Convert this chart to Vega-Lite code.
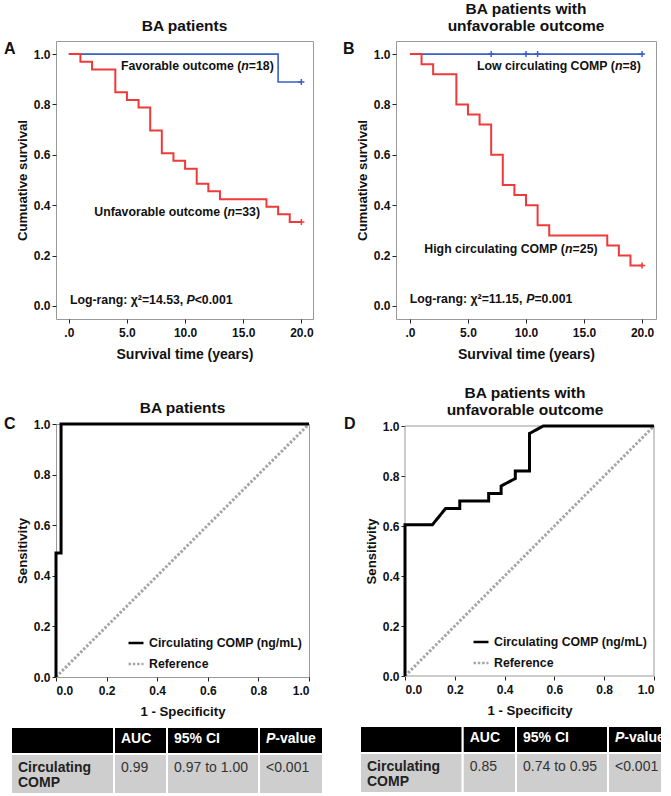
{
  "$schema": "https://vega.github.io/schema/vega-lite/v6.json",
  "padding": {"left": 3, "top": 1, "right": 0, "bottom": 0},
  "background": "white",
  "config": {
    "font": "Liberation Sans",
    "view": {"stroke": "#999999", "strokeWidth": 1},
    "title": {"font": "Liberation Sans", "fontSize": 15.5, "fontWeight": "bold", "color": "#111111", "offset": 7, "lineHeight": 16.5, "frame": "group", "anchor": "middle"},
    "axis": {"labelFont": "Liberation Sans", "labelFontSize": 12, "labelFontWeight": "bold", "labelColor": "#111111", "titleFont": "Liberation Sans", "titleFontWeight": "bold", "titleFontSize": 13.2, "titleColor": "#111111", "tickColor": "#222222", "tickSize": 4, "domain": false, "grid": false},
    "axisX": {"labelPadding": 4, "titlePadding": 9},
    "axisY": {"labelPadding": 2, "titlePadding": 4},
    "legend": {"labelFont": "Liberation Sans", "labelFontSize": 12.3, "labelFontWeight": "bold", "labelColor": "#111111", "labelLimit": 300, "symbolSize": 225, "symbolStrokeWidth": 2.5, "symbolType": "stroke", "labelOffset": 4, "rowPadding": 5, "padding": 0, "offset": 6}
  },
  "resolve": {"scale": {"color": "independent", "strokeDash": "independent"}},
  "spacing": 18,
  "hconcat": [
    {
      "spacing": 8,
      "resolve": {"scale": {"color": "independent", "strokeDash": "independent"}},
      "vconcat": [
        {
          "spacing": 38,
          "resolve": {"scale": {"color": "independent", "strokeDash": "independent"}},
          "vconcat": [
            {
              "width": 257,
              "height": 278,
              "title": {"text": "BA patients"},
              "layer": [
                {
                  "data": {"values": [{"t": 0, "s": 1}, {"t": 18, "s": 0.889}, {"t": 20, "s": 0.889}]},
                  "mark": {"type": "line", "interpolate": "step-after", "color": "#3b5ec8", "strokeWidth": 1.6},
                  "encoding": {
                    "x": {"field": "t", "type": "quantitative", "scale": {"domain": [-1.1, 21], "nice": false, "zero": false}, "axis": {"values": [0, 5, 10, 15, 20], "title": "Survival time (years)", "titleFontSize": 14, "labelExpr": "datum.value === 0 ? '.0' : format(datum.value, '.1f')"}},
                    "y": {"field": "s", "type": "quantitative", "scale": {"domain": [-0.052, 1.052], "nice": false, "zero": false}, "axis": {"values": [0, 0.2, 0.4, 0.6, 0.8, 1], "format": ".1f", "title": "Cumuative survival"}}
                  }
                },
                {
                  "data": {"values": [{"t": 0, "s": 1}, {"t": 1, "s": 0.970}, {"t": 2, "s": 0.939}, {"t": 4, "s": 0.848}, {"t": 5, "s": 0.818}, {"t": 6, "s": 0.788}, {"t": 7, "s": 0.697}, {"t": 8, "s": 0.606}, {"t": 9, "s": 0.576}, {"t": 10, "s": 0.545}, {"t": 11, "s": 0.485}, {"t": 12, "s": 0.455}, {"t": 13, "s": 0.424}, {"t": 17, "s": 0.394}, {"t": 18, "s": 0.364}, {"t": 19, "s": 0.333}, {"t": 20, "s": 0.333}]},
                  "mark": {"type": "line", "interpolate": "step-after", "color": "#ee3a3a", "strokeWidth": 2},
                  "encoding": {"x": {"field": "t", "type": "quantitative"}, "y": {"field": "s", "type": "quantitative"}}
                },
                {
                  "data": {"values": [{"t": 20, "s": 0.889}]},
                  "mark": {"type": "point", "shape": "M-1,0L1,0M0,-1L0,1", "filled": false, "size": 36, "strokeWidth": 1.5, "color": "#3b5ec8", "opacity": 1},
                  "encoding": {"x": {"field": "t", "type": "quantitative"}, "y": {"field": "s", "type": "quantitative"}}
                },
                {
                  "data": {"values": [{"t": 20, "s": 0.333}]},
                  "mark": {"type": "point", "shape": "M-1,0L1,0M0,-1L0,1", "filled": false, "size": 36, "strokeWidth": 1.5, "color": "#ee3a3a", "opacity": 1},
                  "encoding": {"x": {"field": "t", "type": "quantitative"}, "y": {"field": "s", "type": "quantitative"}}
                },
                {
                  "data": {"values": [{"label": "Favorable outcome ("}]},
                  "mark": {"type": "text", "align": "left", "baseline": "alphabetic", "fontSize": 12.3, "fontWeight": "bold", "color": "#111111"},
                  "encoding": {"x": {"datum": 4.49, "type": "quantitative"}, "y": {"datum": 0.936, "type": "quantitative"}, "text": {"field": "label"}}
                },
                {
                  "data": {"values": [{"label": "n"}]},
                  "mark": {"type": "text", "align": "left", "baseline": "alphabetic", "fontSize": 12.3, "fontWeight": "bold", "fontStyle": "italic", "color": "#111111", "dx": 120.3},
                  "encoding": {"x": {"datum": 4.49, "type": "quantitative"}, "y": {"datum": 0.936, "type": "quantitative"}, "text": {"field": "label"}}
                },
                {
                  "data": {"values": [{"label": "=18)"}]},
                  "mark": {"type": "text", "align": "left", "baseline": "alphabetic", "fontSize": 12.3, "fontWeight": "bold", "color": "#111111", "dx": 127.8},
                  "encoding": {"x": {"datum": 4.49, "type": "quantitative"}, "y": {"datum": 0.936, "type": "quantitative"}, "text": {"field": "label"}}
                },
                {
                  "data": {"values": [{"label": "Unfavorable outcome ("}]},
                  "mark": {"type": "text", "align": "left", "baseline": "alphabetic", "fontSize": 12.3, "fontWeight": "bold", "color": "#111111"},
                  "encoding": {"x": {"datum": 2.19, "type": "quantitative"}, "y": {"datum": 0.357, "type": "quantitative"}, "text": {"field": "label"}}
                },
                {
                  "data": {"values": [{"label": "n"}]},
                  "mark": {"type": "text", "align": "left", "baseline": "alphabetic", "fontSize": 12.3, "fontWeight": "bold", "fontStyle": "italic", "color": "#111111", "dx": 133.3},
                  "encoding": {"x": {"datum": 2.19, "type": "quantitative"}, "y": {"datum": 0.357, "type": "quantitative"}, "text": {"field": "label"}}
                },
                {
                  "data": {"values": [{"label": "=33)"}]},
                  "mark": {"type": "text", "align": "left", "baseline": "alphabetic", "fontSize": 12.3, "fontWeight": "bold", "color": "#111111", "dx": 140.8},
                  "encoding": {"x": {"datum": 2.19, "type": "quantitative"}, "y": {"datum": 0.357, "type": "quantitative"}, "text": {"field": "label"}}
                },
                {
                  "data": {"values": [{"label": "Log-rang: χ²=14.53,"}]},
                  "mark": {"type": "text", "align": "left", "baseline": "alphabetic", "fontSize": 12.3, "fontWeight": "bold", "color": "#111111"},
                  "encoding": {"x": {"datum": 0.1, "type": "quantitative"}, "y": {"datum": 0.008, "type": "quantitative"}, "text": {"field": "label"}}
                },
                {
                  "data": {"values": [{"label": "P"}]},
                  "mark": {"type": "text", "align": "left", "baseline": "alphabetic", "fontSize": 12.3, "fontWeight": "bold", "fontStyle": "italic", "color": "#111111", "dx": 116.5},
                  "encoding": {"x": {"datum": 0.1, "type": "quantitative"}, "y": {"datum": 0.008, "type": "quantitative"}, "text": {"field": "label"}}
                },
                {
                  "data": {"values": [{"label": "<0.001"}]},
                  "mark": {"type": "text", "align": "left", "baseline": "alphabetic", "fontSize": 12.3, "fontWeight": "bold", "color": "#111111", "dx": 124.7},
                  "encoding": {"x": {"datum": 0.1, "type": "quantitative"}, "y": {"datum": 0.008, "type": "quantitative"}, "text": {"field": "label"}}
                },
                {
                  "data": {"values": [{"label": "A"}]},
                  "mark": {"type": "text", "align": "left", "baseline": "alphabetic", "fontSize": 16, "fontWeight": "bold", "color": "#111111"},
                  "encoding": {"x": {"datum": -5.57, "type": "quantitative"}, "y": {"datum": 1.0, "type": "quantitative"}, "text": {"field": "label"}}
                }
              ]
            },
            {
              "width": 253,
              "height": 253,
              "title": {"text": "BA patients", "offset": 0},
              "layer": [
                {
                  "data": {"values": [
                    {"i": 0, "fpr": 0, "sens": 0, "series": "Reference"},
                    {"i": 1, "fpr": 1, "sens": 1, "series": "Reference"},
                    {"i": 0, "fpr": 0, "sens": 0, "series": "Circulating COMP (ng/mL)"},
                    {"i": 1, "fpr": 0, "sens": 0.49, "series": "Circulating COMP (ng/mL)"},
                    {"i": 2, "fpr": 0.02, "sens": 0.49, "series": "Circulating COMP (ng/mL)"},
                    {"i": 3, "fpr": 0.02, "sens": 1, "series": "Circulating COMP (ng/mL)"},
                    {"i": 4, "fpr": 1, "sens": 1, "series": "Circulating COMP (ng/mL)"}
                  ]},
                  "mark": {"type": "line", "strokeWidth": 3},
                  "encoding": {
                    "x": {"field": "fpr", "type": "quantitative", "scale": {"domain": [0, 1], "nice": false}, "axis": {"values": [0, 0.2, 0.4, 0.6, 0.8, 1], "format": ".1f", "title": "1 - Specificity"}},
                    "y": {"field": "sens", "type": "quantitative", "scale": {"domain": [0, 1], "nice": false}, "axis": {"values": [0, 0.2, 0.4, 0.6, 0.8, 1], "format": ".1f", "title": "Sensitivity"}},
                    "color": {"field": "series", "type": "nominal", "scale": {"domain": ["Circulating COMP (ng/mL)", "Reference"], "range": ["#000000", "#a6a6a6"]}, "legend": {"title": null, "orient": "bottom-right"}},
                    "strokeDash": {"field": "series", "type": "nominal", "scale": {"domain": ["Circulating COMP (ng/mL)", "Reference"], "range": [[1, 0], [2.5, 1.8]]}, "legend": {"title": null, "orient": "bottom-right"}},
                    "order": {"field": "i", "type": "quantitative"}
                  }
                },
                {
                  "data": {"values": [{"label": "C"}]},
                  "mark": {"type": "text", "align": "left", "baseline": "alphabetic", "fontSize": 16, "fontWeight": "bold", "color": "#111111"},
                  "encoding": {"x": {"datum": -0.2055, "type": "quantitative"}, "y": {"datum": 0.979, "type": "quantitative"}, "text": {"field": "label"}}
                }
              ]
            }
          ]
        },
        {
          "width": 267,
          "height": 67,
          "view": {"stroke": null},
          "layer": [
            {
              "data": {"values": [
                {"r": 0, "r2": 1, "c": 0, "c2": 1, "kind": "header"},
                {"r": 0, "r2": 1, "c": 1, "c2": 2, "kind": "header"},
                {"r": 0, "r2": 1, "c": 2, "c2": 3, "kind": "header"},
                {"r": 0, "r2": 1, "c": 3, "c2": 4, "kind": "header"},
                {"r": 1, "r2": 2, "c": 0, "c2": 1, "kind": "body"},
                {"r": 1, "r2": 2, "c": 1, "c2": 2, "kind": "body"},
                {"r": 1, "r2": 2, "c": 2, "c2": 3, "kind": "body"},
                {"r": 1, "r2": 2, "c": 3, "c2": 4, "kind": "body"}
              ]},
              "mark": {"type": "rect", "stroke": "white", "strokeWidth": 2},
              "encoding": {
                "x": {"field": "c", "type": "quantitative", "scale": {"domain": [0, 1, 2, 3, 4], "range": [-45, 58, 111, 203, 267], "nice": false, "zero": false}, "axis": null},
                "x2": {"field": "c2"},
                "y": {"field": "r", "type": "quantitative", "scale": {"domain": [0, 1, 2], "range": [0, 27, 67], "nice": false, "zero": false}, "axis": null},
                "y2": {"field": "r2"},
                "color": {"field": "kind", "type": "nominal", "scale": {"domain": ["header", "body"], "range": ["#000000", "#cecece"]}, "legend": null}
              }
            },
            {
              "data": {"values": [{"r": 0, "c": 1, "t": "AUC"}, {"r": 0, "c": 2, "t": "95% CI"}]},
              "mark": {"type": "text", "align": "left", "baseline": "alphabetic", "fontSize": 14, "fontWeight": "bold", "color": "#ffffff", "dx": 7, "dy": 16.3},
              "encoding": {"x": {"field": "c", "type": "quantitative"}, "y": {"field": "r", "type": "quantitative"}, "text": {"field": "t"}}
            },
            {
              "data": {"values": [{"r": 0, "c": 3, "t": "P"}]},
              "mark": {"type": "text", "align": "left", "baseline": "alphabetic", "fontSize": 14, "fontWeight": "bold", "fontStyle": "italic", "color": "#ffffff", "dx": 7, "dy": 16.3},
              "encoding": {"x": {"field": "c", "type": "quantitative"}, "y": {"field": "r", "type": "quantitative"}, "text": {"field": "t"}}
            },
            {
              "data": {"values": [{"r": 0, "c": 3, "t": "-value"}]},
              "mark": {"type": "text", "align": "left", "baseline": "alphabetic", "fontSize": 14, "fontWeight": "bold", "color": "#ffffff", "dx": 16.3, "dy": 16.3},
              "encoding": {"x": {"field": "c", "type": "quantitative"}, "y": {"field": "r", "type": "quantitative"}, "text": {"field": "t"}}
            },
            {
              "data": {"values": [{"r": 1, "c": 0, "t": "Circulating\nCOMP"}]},
              "mark": {"type": "text", "align": "left", "baseline": "alphabetic", "fontSize": 14, "fontWeight": "bold", "color": "#222222", "dx": 7, "dy": 17.7, "lineBreak": "\n", "lineHeight": 15.5},
              "encoding": {"x": {"field": "c", "type": "quantitative"}, "y": {"field": "r", "type": "quantitative"}, "text": {"field": "t"}}
            },
            {
              "data": {"values": [{"r": 1, "c": 1, "t": "0.99"}, {"r": 1, "c": 2, "t": "0.97 to 1.00"}, {"r": 1, "c": 3, "t": "<0.001"}]},
              "mark": {"type": "text", "align": "left", "baseline": "alphabetic", "fontSize": 14, "fontWeight": "normal", "color": "#333333", "dx": 7, "dy": 17.7},
              "encoding": {"x": {"field": "c", "type": "quantitative"}, "y": {"field": "r", "type": "quantitative"}, "text": {"field": "t"}}
            }
          ]
        }
      ]
    },
    {
      "spacing": 8,
      "resolve": {"scale": {"color": "independent", "strokeDash": "independent"}},
      "vconcat": [
        {
          "spacing": 24,
          "resolve": {"scale": {"color": "independent", "strokeDash": "independent"}},
          "vconcat": [
            {
              "width": 260,
              "height": 278,
              "title": {"text": ["BA patients with", "unfavorable outcome"]},
              "layer": [
                {
                  "data": {"values": [{"t": 0, "s": 1}, {"t": 20, "s": 1}]},
                  "mark": {"type": "line", "interpolate": "step-after", "color": "#3b5ec8", "strokeWidth": 1.6},
                  "encoding": {
                    "x": {"field": "t", "type": "quantitative", "scale": {"domain": [-1.2, 21.2], "nice": false, "zero": false}, "axis": {"values": [0, 5, 10, 15, 20], "title": "Survival time (years)", "titleFontSize": 14, "labelExpr": "datum.value === 0 ? '.0' : format(datum.value, '.1f')"}},
                    "y": {"field": "s", "type": "quantitative", "scale": {"domain": [-0.052, 1.052], "nice": false, "zero": false}, "axis": {"values": [0, 0.2, 0.4, 0.6, 0.8, 1], "format": ".1f", "title": "Cumuative survival"}}
                  }
                },
                {
                  "data": {"values": [{"t": 0, "s": 1}, {"t": 1, "s": 0.96}, {"t": 2, "s": 0.92}, {"t": 4, "s": 0.80}, {"t": 5, "s": 0.76}, {"t": 6, "s": 0.72}, {"t": 7, "s": 0.60}, {"t": 8, "s": 0.48}, {"t": 9, "s": 0.44}, {"t": 10, "s": 0.40}, {"t": 11, "s": 0.32}, {"t": 12, "s": 0.28}, {"t": 17, "s": 0.24}, {"t": 18, "s": 0.20}, {"t": 19, "s": 0.16}, {"t": 20, "s": 0.16}]},
                  "mark": {"type": "line", "interpolate": "step-after", "color": "#ee3a3a", "strokeWidth": 2},
                  "encoding": {"x": {"field": "t", "type": "quantitative"}, "y": {"field": "s", "type": "quantitative"}}
                },
                {
                  "data": {"values": [{"t": 7, "s": 1}, {"t": 10, "s": 1}, {"t": 11, "s": 1}, {"t": 20, "s": 1}]},
                  "mark": {"type": "point", "shape": "M-1,0L1,0M0,-1L0,1", "filled": false, "size": 36, "strokeWidth": 1.5, "color": "#3b5ec8", "opacity": 1},
                  "encoding": {"x": {"field": "t", "type": "quantitative"}, "y": {"field": "s", "type": "quantitative"}}
                },
                {
                  "data": {"values": [{"t": 20, "s": 0.16}]},
                  "mark": {"type": "point", "shape": "M-1,0L1,0M0,-1L0,1", "filled": false, "size": 36, "strokeWidth": 1.5, "color": "#ee3a3a", "opacity": 1},
                  "encoding": {"x": {"field": "t", "type": "quantitative"}, "y": {"field": "s", "type": "quantitative"}}
                },
                {
                  "data": {"values": [{"label": "Low circulating COMP ("}]},
                  "mark": {"type": "text", "align": "left", "baseline": "alphabetic", "fontSize": 12.3, "fontWeight": "bold", "color": "#111111"},
                  "encoding": {"x": {"datum": 5.78, "type": "quantitative"}, "y": {"datum": 0.937, "type": "quantitative"}, "text": {"field": "label"}}
                },
                {
                  "data": {"values": [{"label": "n"}]},
                  "mark": {"type": "text", "align": "left", "baseline": "alphabetic", "fontSize": 12.3, "fontWeight": "bold", "fontStyle": "italic", "color": "#111111", "dx": 138.1},
                  "encoding": {"x": {"datum": 5.78, "type": "quantitative"}, "y": {"datum": 0.937, "type": "quantitative"}, "text": {"field": "label"}}
                },
                {
                  "data": {"values": [{"label": "=8)"}]},
                  "mark": {"type": "text", "align": "left", "baseline": "alphabetic", "fontSize": 12.3, "fontWeight": "bold", "color": "#111111", "dx": 145.6},
                  "encoding": {"x": {"datum": 5.78, "type": "quantitative"}, "y": {"datum": 0.937, "type": "quantitative"}, "text": {"field": "label"}}
                },
                {
                  "data": {"values": [{"label": "High circulating COMP ("}]},
                  "mark": {"type": "text", "align": "left", "baseline": "alphabetic", "fontSize": 12.3, "fontWeight": "bold", "color": "#111111"},
                  "encoding": {"x": {"datum": 1.24, "type": "quantitative"}, "y": {"datum": 0.211, "type": "quantitative"}, "text": {"field": "label"}}
                },
                {
                  "data": {"values": [{"label": "n"}]},
                  "mark": {"type": "text", "align": "left", "baseline": "alphabetic", "fontSize": 12.3, "fontWeight": "bold", "fontStyle": "italic", "color": "#111111", "dx": 140.8},
                  "encoding": {"x": {"datum": 1.24, "type": "quantitative"}, "y": {"datum": 0.211, "type": "quantitative"}, "text": {"field": "label"}}
                },
                {
                  "data": {"values": [{"label": "=25)"}]},
                  "mark": {"type": "text", "align": "left", "baseline": "alphabetic", "fontSize": 12.3, "fontWeight": "bold", "color": "#111111", "dx": 148.3},
                  "encoding": {"x": {"datum": 1.24, "type": "quantitative"}, "y": {"datum": 0.211, "type": "quantitative"}, "text": {"field": "label"}}
                },
                {
                  "data": {"values": [{"label": "Log-rang: χ²=11.15,"}]},
                  "mark": {"type": "text", "align": "left", "baseline": "alphabetic", "fontSize": 12.3, "fontWeight": "bold", "color": "#111111"},
                  "encoding": {"x": {"datum": -0.02, "type": "quantitative"}, "y": {"datum": 0.012, "type": "quantitative"}, "text": {"field": "label"}}
                },
                {
                  "data": {"values": [{"label": "P"}]},
                  "mark": {"type": "text", "align": "left", "baseline": "alphabetic", "fontSize": 12.3, "fontWeight": "bold", "fontStyle": "italic", "color": "#111111", "dx": 116.5},
                  "encoding": {"x": {"datum": -0.02, "type": "quantitative"}, "y": {"datum": 0.012, "type": "quantitative"}, "text": {"field": "label"}}
                },
                {
                  "data": {"values": [{"label": "=0.001"}]},
                  "mark": {"type": "text", "align": "left", "baseline": "alphabetic", "fontSize": 12.3, "fontWeight": "bold", "color": "#111111", "dx": 124.7},
                  "encoding": {"x": {"datum": -0.02, "type": "quantitative"}, "y": {"datum": 0.012, "type": "quantitative"}, "text": {"field": "label"}}
                },
                {
                  "data": {"values": [{"label": "B"}]},
                  "mark": {"type": "text", "align": "left", "baseline": "alphabetic", "fontSize": 16, "fontWeight": "bold", "color": "#111111"},
                  "encoding": {"x": {"datum": -5.77, "type": "quantitative"}, "y": {"datum": 1.0, "type": "quantitative"}, "text": {"field": "label"}}
                }
              ]
            },
            {
              "width": 258,
              "height": 250,
              "view": {"stroke": null},
              "title": {"text": ["BA patients with", "unfavorable outcome"], "offset": -2},
              "layer": [
                {
                  "data": {"values": [{"edge": "left"}]},
                  "mark": {"type": "rule", "color": "#999999", "strokeWidth": 1},
                  "encoding": {"x": {"datum": 0, "type": "quantitative", "scale": {"domain": [0, 1], "range": [9, 258], "nice": false}, "axis": {"values": [0, 0.2, 0.4, 0.6, 0.8, 1], "format": ".1f", "title": "1 - Specificity"}}}
                },
                {
                  "data": {"values": [{"edge": "right"}]},
                  "mark": {"type": "rule", "color": "#999999", "strokeWidth": 1},
                  "encoding": {"x": {"datum": 1, "type": "quantitative"}}
                },
                {
                  "data": {"values": [{"edge": "top"}]},
                  "mark": {"type": "rule", "color": "#999999", "strokeWidth": 1},
                  "encoding": {"x": {"datum": 0, "type": "quantitative"}, "x2": {"datum": 1}, "y": {"datum": 1, "type": "quantitative", "scale": {"domain": [0, 1], "nice": false}, "axis": {"values": [0, 0.2, 0.4, 0.6, 0.8, 1], "format": ".1f", "title": "Sensitivity", "offset": -9}}}
                },
                {
                  "data": {"values": [{"edge": "bottom"}]},
                  "mark": {"type": "rule", "color": "#999999", "strokeWidth": 1},
                  "encoding": {"x": {"datum": 0, "type": "quantitative"}, "x2": {"datum": 1}, "y": {"datum": 0, "type": "quantitative"}}
                },
                {
                  "data": {"values": [
                    {"i": 0, "fpr": 0, "sens": 0, "series": "Reference"},
                    {"i": 1, "fpr": 1, "sens": 1, "series": "Reference"},
                    {"i": 0, "fpr": 0, "sens": 0, "series": "Circulating COMP (ng/mL)"},
                    {"i": 1, "fpr": 0, "sens": 0.605, "series": "Circulating COMP (ng/mL)"},
                    {"i": 2, "fpr": 0.11, "sens": 0.605, "series": "Circulating COMP (ng/mL)"},
                    {"i": 3, "fpr": 0.163, "sens": 0.67, "series": "Circulating COMP (ng/mL)"},
                    {"i": 4, "fpr": 0.22, "sens": 0.67, "series": "Circulating COMP (ng/mL)"},
                    {"i": 5, "fpr": 0.22, "sens": 0.70, "series": "Circulating COMP (ng/mL)"},
                    {"i": 6, "fpr": 0.336, "sens": 0.70, "series": "Circulating COMP (ng/mL)"},
                    {"i": 7, "fpr": 0.336, "sens": 0.73, "series": "Circulating COMP (ng/mL)"},
                    {"i": 8, "fpr": 0.386, "sens": 0.73, "series": "Circulating COMP (ng/mL)"},
                    {"i": 9, "fpr": 0.386, "sens": 0.76, "series": "Circulating COMP (ng/mL)"},
                    {"i": 10, "fpr": 0.443, "sens": 0.79, "series": "Circulating COMP (ng/mL)"},
                    {"i": 11, "fpr": 0.443, "sens": 0.82, "series": "Circulating COMP (ng/mL)"},
                    {"i": 12, "fpr": 0.50, "sens": 0.82, "series": "Circulating COMP (ng/mL)"},
                    {"i": 13, "fpr": 0.50, "sens": 0.97, "series": "Circulating COMP (ng/mL)"},
                    {"i": 14, "fpr": 0.555, "sens": 1.0, "series": "Circulating COMP (ng/mL)"},
                    {"i": 15, "fpr": 1.0, "sens": 1.0, "series": "Circulating COMP (ng/mL)"}
                  ]},
                  "mark": {"type": "line", "strokeWidth": 3},
                  "encoding": {
                    "x": {"field": "fpr", "type": "quantitative"},
                    "y": {"field": "sens", "type": "quantitative"},
                    "color": {"field": "series", "type": "nominal", "scale": {"domain": ["Circulating COMP (ng/mL)", "Reference"], "range": ["#000000", "#a6a6a6"]}, "legend": {"title": null, "orient": "bottom-right"}},
                    "strokeDash": {"field": "series", "type": "nominal", "scale": {"domain": ["Circulating COMP (ng/mL)", "Reference"], "range": [[1, 0], [2.5, 1.8]]}, "legend": {"title": null, "orient": "bottom-right"}},
                    "order": {"field": "i", "type": "quantitative"}
                  }
                },
                {
                  "data": {"values": [{"label": "D"}]},
                  "mark": {"type": "text", "align": "left", "baseline": "alphabetic", "fontSize": 16, "fontWeight": "bold", "color": "#111111"},
                  "encoding": {"x": {"datum": -0.245, "type": "quantitative"}, "y": {"datum": 0.988, "type": "quantitative"}, "text": {"field": "label"}}
                }
              ]
            }
          ]
        },
        {
          "width": 266,
          "height": 67,
          "view": {"stroke": null},
          "layer": [
            {
              "data": {"values": [
                {"r": 0, "r2": 1, "c": 0, "c2": 1, "kind": "header"},
                {"r": 0, "r2": 1, "c": 1, "c2": 2, "kind": "header"},
                {"r": 0, "r2": 1, "c": 2, "c2": 3, "kind": "header"},
                {"r": 0, "r2": 1, "c": 3, "c2": 4, "kind": "header"},
                {"r": 1, "r2": 2, "c": 0, "c2": 1, "kind": "body"},
                {"r": 1, "r2": 2, "c": 1, "c2": 2, "kind": "body"},
                {"r": 1, "r2": 2, "c": 2, "c2": 3, "kind": "body"},
                {"r": 1, "r2": 2, "c": 3, "c2": 4, "kind": "body"}
              ]},
              "mark": {"type": "rect", "stroke": "white", "strokeWidth": 2},
              "encoding": {
                "x": {"field": "c", "type": "quantitative", "scale": {"domain": [0, 1, 2, 3, 4], "range": [-36, 66.7, 120, 212, 266], "nice": false, "zero": false}, "axis": null},
                "x2": {"field": "c2"},
                "y": {"field": "r", "type": "quantitative", "scale": {"domain": [0, 1, 2], "range": [0, 27, 67], "nice": false, "zero": false}, "axis": null},
                "y2": {"field": "r2"},
                "color": {"field": "kind", "type": "nominal", "scale": {"domain": ["header", "body"], "range": ["#000000", "#cecece"]}, "legend": null}
              }
            },
            {
              "data": {"values": [{"r": 0, "c": 1, "t": "AUC"}, {"r": 0, "c": 2, "t": "95% CI"}]},
              "mark": {"type": "text", "align": "left", "baseline": "alphabetic", "fontSize": 14, "fontWeight": "bold", "color": "#ffffff", "dx": 7, "dy": 16.3},
              "encoding": {"x": {"field": "c", "type": "quantitative"}, "y": {"field": "r", "type": "quantitative"}, "text": {"field": "t"}}
            },
            {
              "data": {"values": [{"r": 0, "c": 3, "t": "P"}]},
              "mark": {"type": "text", "align": "left", "baseline": "alphabetic", "fontSize": 14, "fontWeight": "bold", "fontStyle": "italic", "color": "#ffffff", "dx": 7, "dy": 16.3},
              "encoding": {"x": {"field": "c", "type": "quantitative"}, "y": {"field": "r", "type": "quantitative"}, "text": {"field": "t"}}
            },
            {
              "data": {"values": [{"r": 0, "c": 3, "t": "-value"}]},
              "mark": {"type": "text", "align": "left", "baseline": "alphabetic", "fontSize": 14, "fontWeight": "bold", "color": "#ffffff", "dx": 16.3, "dy": 16.3},
              "encoding": {"x": {"field": "c", "type": "quantitative"}, "y": {"field": "r", "type": "quantitative"}, "text": {"field": "t"}}
            },
            {
              "data": {"values": [{"r": 1, "c": 0, "t": "Circulating\nCOMP"}]},
              "mark": {"type": "text", "align": "left", "baseline": "alphabetic", "fontSize": 14, "fontWeight": "bold", "color": "#222222", "dx": 7, "dy": 17.7, "lineBreak": "\n", "lineHeight": 15.5},
              "encoding": {"x": {"field": "c", "type": "quantitative"}, "y": {"field": "r", "type": "quantitative"}, "text": {"field": "t"}}
            },
            {
              "data": {"values": [{"r": 1, "c": 1, "t": "0.85"}, {"r": 1, "c": 2, "t": "0.74 to 0.95"}, {"r": 1, "c": 3, "t": "<0.001"}]},
              "mark": {"type": "text", "align": "left", "baseline": "alphabetic", "fontSize": 14, "fontWeight": "normal", "color": "#333333", "dx": 7, "dy": 17.7},
              "encoding": {"x": {"field": "c", "type": "quantitative"}, "y": {"field": "r", "type": "quantitative"}, "text": {"field": "t"}}
            }
          ]
        }
      ]
    }
  ]
}
